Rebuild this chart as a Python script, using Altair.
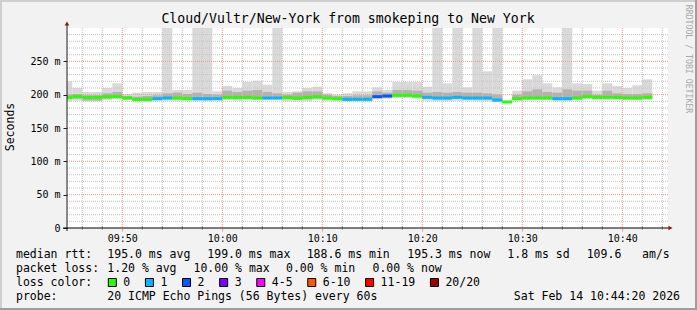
import altair as alt
import pandas as pd

# ---------------- data ----------------
first_step = 9 * 60 + 44          # 09:44, one-minute steps (minutes since midnight)

median_ms = [196, 197, 196, 196, 197, 197, 195, 193, 193, 194, 195, 195, 194, 194, 194, 194,
             196, 196, 196, 195, 195, 195, 196, 195, 196, 197, 195, 194, 193, 193, 193,
             197, 198, 199, 199, 198, 196, 195, 195, 196, 195, 195, 195, 192, 189,
             194, 195, 195, 195, 194, 194, 195, 197, 196, 196, 196, 195, 195, 196]
loss_pings = [0, 0, 0, 0, 0, 0, 0, 0, 0, 1, 1, 0, 0, 1, 1, 1,
              0, 0, 0, 0, 1, 1, 0, 0, 0, 0, 0, 0, 1, 1, 1,
              2, 2, 0, 0, 0, 1, 1, 1, 1, 1, 1, 1, 1, 0,
              0, 0, 0, 0, 1, 1, 0, 0, 0, 0, 0, 0, 0, 0]
ping_min = [190, 191, 190, 190, 192, 193, 192, 190, 189, 191, 191, 190, 191, 191, 190, 191,
            192, 191, 192, 192, 192, 192, 190, 190, 190, 192, 191, 190, 190, 190, 190,
            193, 194, 195, 195, 194, 191, 190, 190, 191, 191, 190, 190, 189, 188,
            191, 192, 192, 192, 191, 191, 192, 193, 192, 192, 192, 192, 192, 192]
ping_lo = [193, 194, 191, 191, 194, 195, 194, 192, 191, 193, 193, 193, 193, 193, 192, 193,
           194, 193, 194, 194, 194, 194, 193, 192, 193, 194, 193, 192, 191, 192, 192,
           195, 196, 197, 197, 196, 194, 193, 193, 194, 193, 193, 193, 190, 188.6,
           193, 194, 194, 194, 193, 193, 194, 195, 194, 195, 194, 194, 193, 194]
ping_hi = [200, 201, 199, 199, 202, 204, 198, 197, 198, 199, 202, 203, 201, 203, 201, 200,
           206, 204, 206, 207, 204, 202, 200, 203, 205, 205, 200, 198, 198, 199, 199,
           205, 203, 207, 207, 206, 203, 204, 203, 204, 203, 203, 202, 200, 190,
           200, 205, 208, 204, 203, 208, 206, 206, 200, 206, 202, 201, 201, 202]
ping_max = [220, 210, 204, 204, 210, 217, 201, 203, 204, 204, 330, 207, 207, 330, 330, 205,
            213, 210, 219, 221, 215, 330, 204, 205, 210, 212, 202, 200, 202, 205, 205,
            211, 207, 219, 219, 219, 212, 330, 217, 330, 211, 330, 235, 330, 191,
            206, 223, 229, 217, 211, 330, 217, 216, 206, 217, 213, 210, 214, 223]

loss_labels = ["0", "1", "2", "3", "4-5", "6-10", "11-19", "20/20"]
loss_colors = ["#26ff00", "#00b8ff", "#0059ff", "#7e00ff", "#ff00ff", "#ff5500", "#ff0000", "#a10000"]

y_ticks = [0, 50, 100, 150, 200, 250]
x_ticks = [590, 600, 610, 620, 630, 640]

title_text = "Cloud/Vultr/New-York from smokeping to New York"
row_rtt = ["median rtt:", "195.0 ms avg", "199.0 ms max", "188.6 ms min",
           "195.3 ms now", "1.8 ms sd", "109.6   am/s"]
row_loss = ["packet loss:", "1.20 % avg", "10.00 % max", "0.00 % min", "0.00 % now"]
row_color = "loss color:"
row_probe = ["probe:", "20 ICMP Echo Pings (56 Bytes) every 60s"]
stamp = "Sat Feb 14 10:44:20 2026"
y_title = "Seconds"
watermark = "RRDTOOL / TOBI OETIKER"

# ---------------- layout ----------------
MONO = "DejaVu Sans Mono"
PL, PT = 67, 28              # plot origin in the page
W, H = 601, 200
X_DOM = [584.47, 644.57]
Y_DOM = [0, 300]


def loss_label(n):
    if n <= 3:
        return str(n)
    if n <= 5:
        return "4-5"
    if n <= 10:
        return "6-10"
    if n <= 19:
        return "11-19"
    return "20/20"


n = len(median_ms)
df = pd.DataFrame({
    "t0": [first_step + i for i in range(n)],
    "t1": [first_step + i + 1 for i in range(n)],
    "med": median_ms,
    "loss": [loss_label(v) for v in loss_pings],
    "pmin": ping_min, "plo": ping_lo, "phi": ping_hi, "pmax": ping_max,
})

xs = alt.Scale(domain=X_DOM, nice=False, zero=False)
ys = alt.Scale(domain=Y_DOM, nice=False)

x_axis = alt.Axis(values=x_ticks, title=None, domain=False, grid=False,
                  labelExpr="format(floor(datum.value/60),'02d') + ':' + format(datum.value%60,'02d')",
                  tickColor="#eb9696", tickSize=3, labelPadding=2,
                  labelFont=MONO, labelFontSize=10, labelColor="#000000")
y_axis = alt.Axis(values=y_ticks, title=None, domain=False, grid=False,
                  labelExpr="datum.value == 0 ? '0\u00a0\u00a0' : datum.value + '\u00a0m'",
                  tickColor="#1f1f1f", tickSize=4, labelPadding=3,
                  labelFont=MONO, labelFontSize=10, labelColor="#000000")

base = alt.Chart(df)
smoke_outer = base.mark_rect(color="#d9d9d9", clip=True).encode(
    x=alt.X("t0:Q", scale=xs, axis=x_axis), x2="t1",
    y=alt.Y("pmin:Q", scale=ys, axis=y_axis), y2="pmax")
smoke_inner = base.mark_rect(color="#b3b3b3", clip=True).encode(
    x=alt.X("t0:Q", scale=xs, axis=None), x2="t1",
    y=alt.Y("plo:Q", scale=ys, axis=None), y2="phi")

gy_minor = pd.DataFrame({"v": [v for v in range(10, 300, 10) if v % 50]})
gy_major = pd.DataFrame({"v": [v for v in y_ticks if v > 0]})
gx_minor = pd.DataFrame({"v": [m for m in range(586, 645, 2) if m % 10]})
gx_major = pd.DataFrame({"v": x_ticks})

grid = [
    alt.Chart(gy_minor).mark_rule(color="#c4c4c4", strokeDash=[1, 1]).encode(
        y=alt.Y("v:Q", scale=ys, axis=None)),
    alt.Chart(gx_minor).mark_rule(color="#c4c4c4", strokeDash=[1, 1]).encode(
        x=alt.X("v:Q", scale=xs, axis=None)),
    alt.Chart(gy_major).mark_rule(color="#eb9696", strokeDash=[1, 1]).encode(
        y=alt.Y("v:Q", scale=ys, axis=None)),
    alt.Chart(gx_major).mark_rule(color="#eb9696", strokeDash=[1, 1]).encode(
        x=alt.X("v:Q", scale=xs, axis=None)),
]
minor_ticks = alt.Chart(gx_minor).mark_rule(color="#9a9a9a").encode(
    x=alt.X("v:Q", scale=xs, axis=None), y=alt.value(198), y2=alt.value(202))

median_line = base.mark_rule(strokeWidth=3, clip=True).encode(
    x=alt.X("t0:Q", scale=xs, axis=None), x2="t1",
    y=alt.Y("med:Q", scale=ys, axis=None),
    color=alt.Color("loss:N", scale=alt.Scale(domain=loss_labels, range=loss_colors), legend=None))

one = pd.DataFrame({"a": [0]})
axes_lines = [
    alt.Chart(one).mark_rule(color="#1f1f1f").encode(
        x=alt.value(0), y=alt.value(-4), y2=alt.value(203)),
    alt.Chart(one).mark_rule(color="#000000").encode(
        x=alt.value(-4), x2=alt.value(603), y=alt.value(200)),
    alt.Chart(one).mark_point(shape="triangle-up", filled=True, size=22, color="#801f1f", opacity=1).encode(
        x=alt.value(0), y=alt.value(-4.5)),
    alt.Chart(one).mark_point(shape="triangle-right", filled=True, size=22, color="#801f1f", opacity=1).encode(
        x=alt.value(603.5), y=alt.value(200)),
]

borders = [
    alt.Chart(one).mark_rule(color="#cfcfcf", strokeWidth=2).encode(
        x=alt.value(-PL), x2=alt.value(697 - PL), y=alt.value(1 - PT)),
    alt.Chart(one).mark_rule(color="#cfcfcf", strokeWidth=2).encode(
        x=alt.value(1 - PL), y=alt.value(-PT), y2=alt.value(310 - PT)),
    alt.Chart(one).mark_rule(color="#9e9e9e", strokeWidth=2).encode(
        x=alt.value(-PL), x2=alt.value(697 - PL), y=alt.value(309 - PT)),
    alt.Chart(one).mark_rule(color="#9e9e9e", strokeWidth=2).encode(
        x=alt.value(696 - PL), y=alt.value(-PT), y2=alt.value(310 - PT)),
]

# legend text pieces (page coordinates -> plot coordinates)
rtt_x = [16, 107.3, 207.3, 306.7, 407.3, 507.3, 586.7]
loss_x = [16, 107.3, 193.5, 286, 372.5]
rows = []
for t, x in zip(row_rtt, rtt_x):
    rows.append((t, x, 254.5))
for t, x in zip(row_loss, loss_x):
    rows.append((t, x, 268.5))
rows.append((row_color, 16, 282.5))
rows.append((row_probe[0], 16, 296.5))
rows.append((row_probe[1], 107.3, 296.5))

CH = 6.92
sw_x = []
cx = 108.3
for lab in loss_labels:
    sw_x.append(cx)
    rows.append((lab, cx + 15, 282.5))
    cx += len(lab) * CH + 30.2

leg_df = pd.DataFrame({
    "txt": [r[0].replace(" ", "\u00a0") for r in rows],
    "px": [r[1] - PL for r in rows],
    "py": [r[2] - PT for r in rows],
})
legend_text = alt.Chart(leg_df).mark_text(
    font=MONO, fontSize=11.5, align="left", baseline="middle", color="#000000").encode(
    x=alt.X("px:Q", scale=None), y=alt.Y("py:Q", scale=None), text="txt:N")

stamp_df = pd.DataFrame({"txt": [stamp.replace(" ", "\u00a0")], "px": [680 - PL], "py": [296.5 - PT]})
stamp_text = alt.Chart(stamp_df).mark_text(
    font=MONO, fontSize=11.5, align="right", baseline="middle", color="#000000").encode(
    x=alt.X("px:Q", scale=None), y=alt.Y("py:Q", scale=None), text="txt:N")

sw_df = pd.DataFrame({
    "x0": [x - PL for x in sw_x], "x1": [x + 8 - PL for x in sw_x],
    "y0": [278.5 - PT] * len(sw_x), "y1": [286.5 - PT] * len(sw_x),
    "col": loss_colors,
})
swatches = alt.Chart(sw_df).mark_rect(stroke="#000000", strokeWidth=1).encode(
    x=alt.X("x0:Q", scale=None), x2="x1", y=alt.Y("y0:Q", scale=None), y2="y1",
    color=alt.Color("col:N", scale=None))

title_df = pd.DataFrame({"txt": [title_text], "px": [348 - PL], "py": [18.5 - PT]})
title_mark = alt.Chart(title_df).mark_text(
    font=MONO, fontSize=13.2, align="center", baseline="middle", color="#000000").encode(
    x=alt.X("px:Q", scale=None), y=alt.Y("py:Q", scale=None), text="txt:N")

yt_df = pd.DataFrame({"txt": [y_title], "px": [10.5 - PL], "py": [127 - PT]})
ytitle_mark = alt.Chart(yt_df).mark_text(
    font=MONO, fontSize=11.5, align="center", baseline="middle", angle=270, color="#000000").encode(
    x=alt.X("px:Q", scale=None), y=alt.Y("py:Q", scale=None), text="txt:N")

wm_df = pd.DataFrame({"txt": [watermark.replace(" ", "\u00a0")], "px": [688 - PL], "py": [59 - PT]})
wm_mark = alt.Chart(wm_df).mark_text(
    font=MONO, fontSize=8.2, align="center", baseline="middle", angle=90, color="#a8a8a8").encode(
    x=alt.X("px:Q", scale=None), y=alt.Y("py:Q", scale=None), text="txt:N")

chart = alt.layer(
    smoke_outer, smoke_inner, *grid, median_line, minor_ticks, *axes_lines, *borders,
    legend_text, stamp_text, swatches, title_mark, ytitle_mark, wm_mark,
).resolve_scale(x="independent", y="independent", color="independent").properties(
    width=W, height=H,
    padding={"left": PL, "top": PT, "right": 697 - PL - W, "bottom": 310 - PT - H},
    autosize=alt.AutoSizeParams(type="none"),
    background="#f2f2f2",
).configure_view(stroke=None, fill="#ffffff")

chart.save("out.html", embed_options={"renderer": "svg", "actions": False})
